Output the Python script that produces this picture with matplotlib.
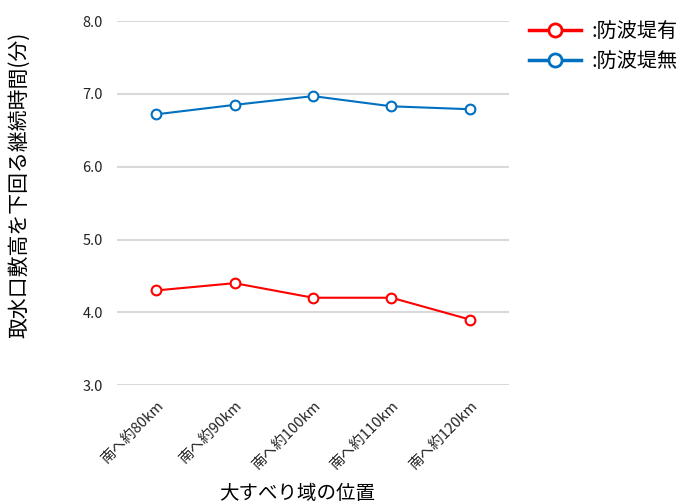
import matplotlib.pyplot as plt

plt.rcParams['font.family'] = ['Noto Sans CJK JP', 'DejaVu Sans']

positions = ['南へ約80km', '南へ約90km', '南へ約100km', '南へ約110km', '南へ約120km']
with_breakwater = [4.3, 4.4, 4.2, 4.2, 3.9]
without_breakwater = [6.72, 6.85, 6.97, 6.83, 6.79]
y_ticks = [3.0, 4.0, 5.0, 6.0, 7.0, 8.0]

fig = plt.figure(figsize=(6.88, 5.04), dpi=100)
ax = fig.add_axes([0.170, 0.236, 0.570, 0.722])

x = list(range(len(positions)))
ax.plot(x, with_breakwater, color='#ff0000', lw=1.5, marker='o', ms=7,
        mfc='white', mew=1.5, label=':防波堤有', zorder=3)
ax.plot(x, without_breakwater, color='#0070c0', lw=1.5, marker='o', ms=7,
        mfc='white', mew=1.5, label=':防波堤無', zorder=3)

ax.set_xlim(-0.5, len(positions) - 0.5)
ax.set_ylim(3.0, 8.0)
ax.set_yticks(y_ticks)
ax.set_yticklabels([f'{v:.1f}' for v in y_ticks], fontsize=10.5, color='#222222')
ax.set_xticks(x)
ax.set_xticklabels(positions, rotation=45, ha='right', rotation_mode='anchor',
                   fontsize=10.5, color='#222222')
ax.tick_params(axis='y', length=0, pad=10)
ax.tick_params(axis='x', length=0, pad=10)
ax.grid(axis='y', color='#d9d9d9', lw=1.5)
ax.set_axisbelow(True)
for s in ax.spines.values():
    s.set_visible(False)

ax.set_ylabel('取水口敷高を下回る継続時間(分)', fontsize=15)
ax.yaxis.set_label_coords(-0.222, 0.55)
ax.set_xlabel('大すべり域の位置', fontsize=14)
ax.xaxis.set_label_coords(0.46, -0.27)

leg = fig.legend(loc='upper left', bbox_to_anchor=(0.742, 0.995), frameon=False,
                 fontsize=14.5, handlelength=2.6, handletextpad=0.5, labelspacing=0.45,
                 markerscale=1.35)
# thicker strokes for the legend samples
for h in leg.legend_handles:
    h.set_linewidth(2.5)
    h.set_markeredgewidth(2)

fig.savefig('out.png', dpi=100)
